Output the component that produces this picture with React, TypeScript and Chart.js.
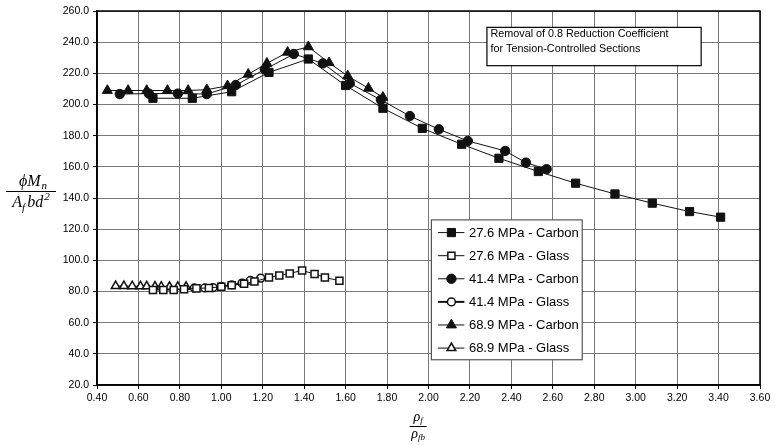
import React, { useEffect, useRef } from 'react';
import { Chart, registerables } from 'chart.js';

Chart.register(...registerables);

// ---- Data (ratio rho_f / rho_fb  vs  phiMn / (Af b d^2)) ----
const c276X = [0.67, 0.86, 1.05, 1.23, 1.42, 1.60, 1.78, 1.97, 2.16, 2.34, 2.53, 2.71, 2.90, 3.08, 3.26, 3.41];
const c276Y = [204, 204, 208.2, 220.6, 229.2, 212.2, 197.6, 184.7, 174.5, 165.5, 157, 149.5, 142.6, 136.7, 131.3, 127.7];

const g276X = [0.67, 0.72, 0.77, 0.82, 0.88, 0.94, 1.0, 1.05, 1.11, 1.16, 1.23, 1.28, 1.33, 1.39, 1.45, 1.50, 1.57];
const g276Y = [81, 81, 81, 81.5, 82, 82.3, 83, 84, 85, 86.4, 89, 90.3, 91.6, 93.5, 91.2, 89, 86.9];

const c414X = [0.51, 0.65, 0.79, 0.93, 1.07, 1.21, 1.35, 1.49, 1.62, 1.77, 1.91, 2.05, 2.19, 2.37, 2.47, 2.57];
const c414Y = [206.7, 207, 207, 206.7, 212.5, 222.5, 232.4, 226.4, 213.6, 203, 192.6, 184.1, 176.6, 170.2, 162.7, 158.5];

const g414X = [0.87, 0.92, 0.96, 1.0, 1.05, 1.10, 1.14, 1.19];
const g414Y = [82.3, 82.3, 82.5, 83.2, 84.3, 85.4, 87.1, 88.6];

const c689X = [0.45, 0.55, 0.64, 0.74, 0.84, 0.93, 1.03, 1.13, 1.22, 1.32, 1.42, 1.52, 1.61, 1.71, 1.78];
const c689Y = [209, 209, 209, 209, 209, 209.5, 212, 219.4, 226.4, 233.5, 237, 226.8, 218.3, 210.4, 204.6];

const g689X = [0.49, 0.53, 0.57, 0.61, 0.64, 0.68, 0.71, 0.75, 0.79, 0.83];
const g689Y = [83.5, 83.5, 83.4, 83.3, 83.3, 83.2, 83.1, 83, 83, 83];

const seriesLabels = [
  '27.6 MPa - Carbon',
  '27.6 MPa - Glass',
  '41.4 MPa - Carbon',
  '41.4 MPa - Glass',
  '68.9 MPa - Carbon',
  '68.9 MPa - Glass',
];

const X_MIN = 0.4, X_MAX = 3.6, X_STEP = 0.2;
const Y_MIN = 20, Y_MAX = 260, Y_STEP = 20;
const noteLines = ['Removal of 0.8 Reduction Coefficient', 'for Tension-Controlled Sections'];

const pts = (xs: number[], ys: number[]) => xs.map((x, i) => ({ x, y: ys[i] }));

type Style = { shape: string; filled: boolean; r: number; lw: number };
const styles: Style[] = [
  { shape: 'rect', filled: true, r: 5.8, lw: 1 },
  { shape: 'rect', filled: false, r: 5.0, lw: 1 },
  { shape: 'circle', filled: true, r: 4.7, lw: 1 },
  { shape: 'circle', filled: false, r: 3.9, lw: 2 },
  { shape: 'triangle', filled: true, r: 5.8, lw: 1 },
  { shape: 'triangle', filled: false, r: 5.0, lw: 1 },
];

const FONT = "Arial, 'Liberation Sans', sans-serif";
const SERIF = "'Times New Roman', 'Liberation Serif', 'DejaVu Serif', serif";

function drawMarker(ctx: CanvasRenderingContext2D, s: Style, x: number, y: number) {
  ctx.beginPath();
  const r = s.r;
  if (s.shape === 'rect') {
    const h = Math.SQRT1_2 * r;
    ctx.rect(x - h, y - h, 2 * h, 2 * h);
  } else if (s.shape === 'circle') {
    ctx.arc(x, y, r, 0, Math.PI * 2);
  } else {
    ctx.moveTo(x - Math.sin(Math.PI / 3) * r, y + r / 2);
    ctx.lineTo(x, y - r);
    ctx.lineTo(x + Math.sin(Math.PI / 3) * r, y + r / 2);
    ctx.closePath();
  }
  ctx.fillStyle = s.filled ? '#111' : '#fff';
  ctx.fill();
  ctx.strokeStyle = '#111';
  ctx.lineWidth = s.filled ? 1 : 1.5;
  ctx.stroke();
}

const overlayPlugin = {
  id: 'overlay',
  afterDraw(chart: any) {
    const ctx: CanvasRenderingContext2D = chart.ctx;
    const a = chart.chartArea;
    const xs = chart.scales.x;
    const ys = chart.scales.y;
    ctx.save();

    // plot frame
    ctx.strokeStyle = '#000';
    ctx.lineWidth = 1.5;
    ctx.strokeRect(a.left, a.top, a.right - a.left, a.bottom - a.top);

    // note box
    const nl = xs.getPixelForValue(2.282);
    const nr = xs.getPixelForValue(3.316);
    const nt = ys.getPixelForValue(249.5);
    const nb = ys.getPixelForValue(224.9);
    ctx.fillStyle = '#fff';
    ctx.fillRect(nl, nt, nr - nl, nb - nt);
    ctx.lineWidth = 1.2;
    ctx.strokeStyle = '#000';
    ctx.strokeRect(nl, nt, nr - nl, nb - nt);
    ctx.fillStyle = '#000';
    ctx.font = `10.8px ${FONT}`;
    ctx.textBaseline = 'middle';
    ctx.textAlign = 'left';
    noteLines.forEach((t, i) => ctx.fillText(t, nl + 3.5, nt + 7 + i * 14.3));

    // legend box
    const ll = xs.getPixelForValue(2.014);
    const lr = xs.getPixelForValue(2.742);
    const lt = ys.getPixelForValue(125.96);
    const lb = ys.getPixelForValue(36.2);
    ctx.fillStyle = '#fff';
    ctx.fillRect(ll, lt, lr - ll, lb - lt);
    ctx.strokeStyle = '#555';
    ctx.lineWidth = 1.2;
    ctx.strokeRect(ll, lt, lr - ll, lb - lt);
    ctx.font = `13px ${FONT}`;
    seriesLabels.forEach((lab, i) => {
      const y = lt + 12.7 + i * 23.1;
      const s = styles[i];
      ctx.strokeStyle = '#111';
      ctx.lineWidth = s.lw;
      ctx.beginPath();
      ctx.moveTo(ll + 6.5, y);
      ctx.lineTo(ll + 33, y);
      ctx.stroke();
      drawMarker(ctx, s, ll + 20, y);
      ctx.fillStyle = '#000';
      ctx.textBaseline = 'middle';
      ctx.fillText(lab, ll + 37.5, y + 0.5);
    });

    // y-axis title: phi Mn / (Af b d^2)
    ctx.fillStyle = '#000';
    ctx.strokeStyle = '#000';
    const cy = (a.top + a.bottom) / 2 - 7;
    const cx = 31;
    ctx.lineWidth = 1;
    ctx.beginPath();
    ctx.moveTo(6, cy + 0.5);
    ctx.lineTo(56, cy + 0.5);
    ctx.stroke();
    ctx.textBaseline = 'alphabetic';
    ctx.textAlign = 'left';
    // numerator
    ctx.font = `italic 16px ${SERIF}`;
    const wNum = ctx.measureText('\u03D5M').width;
    ctx.font = `italic 11px ${SERIF}`;
    const wSub = ctx.measureText('n').width;
    let x0 = cx - (wNum + wSub + 1) / 2 + 2;
    ctx.font = `italic 16px ${SERIF}`;
    ctx.fillText('\u03D5M', x0, cy - 5);
    ctx.font = `italic 11px ${SERIF}`;
    ctx.fillText('n', x0 + wNum + 1, cy - 2);
    // denominator
    ctx.font = `italic 16px ${SERIF}`;
    const wA = ctx.measureText('A').width;
    const wBd = ctx.measureText('bd').width;
    ctx.font = `italic 11px ${SERIF}`;
    const wF = ctx.measureText('f').width;
    const w2 = ctx.measureText('2').width;
    const tot = wA + wF + 2 + wBd + w2 + 1;
    x0 = cx - tot / 2;
    ctx.font = `italic 16px ${SERIF}`;
    ctx.fillText('A', x0, cy + 16);
    ctx.font = `italic 11px ${SERIF}`;
    ctx.fillText('f', x0 + wA, cy + 20);
    ctx.font = `italic 16px ${SERIF}`;
    ctx.fillText('bd', x0 + wA + wF + 2, cy + 16);
    ctx.font = `italic 11px ${SERIF}`;
    ctx.fillText('2', x0 + wA + wF + 2 + wBd + 1, cy + 9);

    // x-axis title: rho_f / rho_fb
    const xc = xs.getPixelForValue(1.95);
    const ly = a.bottom + 41;
    ctx.beginPath();
    ctx.moveTo(xc - 8.5, ly + 0.5);
    ctx.lineTo(xc + 8.5, ly + 0.5);
    ctx.stroke();
    ctx.font = `italic 14px ${SERIF}`;
    const wr = ctx.measureText('\u03C1').width;
    ctx.font = `italic 9px ${SERIF}`;
    const wf = ctx.measureText('f').width;
    const wfb = ctx.measureText('fb').width;
    ctx.font = `italic 14px ${SERIF}`;
    ctx.fillText('\u03C1', xc - (wr + wf) / 2, ly - 5);
    ctx.font = `italic 9px ${SERIF}`;
    ctx.fillText('f', xc - (wr + wf) / 2 + wr, ly - 3);
    ctx.font = `italic 14px ${SERIF}`;
    ctx.fillText('\u03C1', xc - (wr + wfb) / 2, ly + 12);
    ctx.font = `italic 9px ${SERIF}`;
    ctx.fillText('fb', xc - (wr + wfb) / 2 + wr, ly + 14);

    ctx.restore();
  },
};

export default function App() {
  const ref = useRef<HTMLCanvasElement>(null);
  useEffect(() => {
    if (!ref.current) return;
    const data = [
      pts(c276X, c276Y),
      pts(g276X, g276Y),
      pts(c414X, c414Y),
      pts(g414X, g414Y),
      pts(c689X, c689Y),
      pts(g689X, g689Y),
    ];
    const chart = new Chart(ref.current, {
      type: 'scatter',
      data: {
        datasets: data.map((d, i) => ({
          label: seriesLabels[i],
          data: d,
          showLine: true,
          borderColor: '#111',
          borderWidth: i === 3 ? 1.5 : 1,
          pointStyle: styles[i].shape as any,
          pointRadius: styles[i].r,
          pointHoverRadius: styles[i].r,
          pointBackgroundColor: styles[i].filled ? '#111' : '#fff',
          pointBorderColor: '#111',
          pointBorderWidth: styles[i].filled ? 1 : 1.5,
          fill: false,
        })),
      },
      options: {
        animation: false,
        responsive: false,
        maintainAspectRatio: false,
        layout: { padding: { left: 0, top: 11, right: 15, bottom: 0 } },
        plugins: { legend: { display: false }, tooltip: { enabled: false } },
        scales: {
          x: {
            type: 'linear',
            min: X_MIN,
            max: X_MAX,
            afterFit: (s: any) => { s.height = 60; },
            ticks: {
              stepSize: X_STEP,
              color: '#000',
              font: { family: FONT, size: 10.5 },
              padding: 3,
              maxRotation: 0,
              callback: (v: any) => Number(v).toFixed(2),
            },
            grid: { color: '#777', lineWidth: 1, tickLength: 4, tickColor: '#000' },
            border: { color: '#000', width: 1.5 },
          },
          y: {
            type: 'linear',
            min: Y_MIN,
            max: Y_MAX,
            afterFit: (s: any) => { s.width = 97; },
            ticks: {
              stepSize: Y_STEP,
              color: '#000',
              font: { family: FONT, size: 10.5 },
              padding: 4,
              callback: (v: any) => Number(v).toFixed(1),
            },
            grid: { color: '#777', lineWidth: 1, tickLength: 4, tickColor: '#000' },
            border: { color: '#000', width: 1.5 },
          },
        },
      } as any,
      plugins: [overlayPlugin],
    });
    return () => chart.destroy();
  }, []);
  return (
    <div style={{ position: 'absolute', left: 0, top: 0, width: 775, height: 445, background: '#fff' }}>
      <canvas ref={ref} width={775} height={445} style={{ width: 775, height: 445 }} />
    </div>
  );
}
